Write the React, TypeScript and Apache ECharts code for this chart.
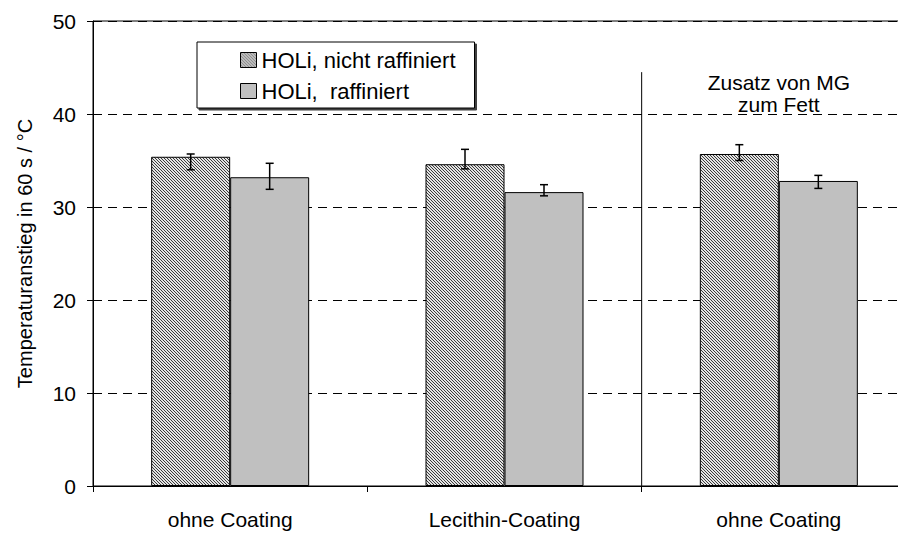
import React, { useEffect, useRef } from 'react';
import * as echarts from 'echarts';

// Categories along the x axis
const categories = ['ohne Coating', 'Lecithin-Coating', 'ohne Coating'];
const seriesNames = ['HOLi, nicht raffiniert', 'HOLi,  raffiniert'];

// Temperature rise in 60 s (°C) with error bar limits
const unrefined = [35.4, 34.6, 35.7];
const unrefinedLow = [34.0, 34.1, 35.0];
const unrefinedHigh = [35.7, 36.2, 36.7];
const refined = [33.2, 31.6, 32.8];
const refinedLow = [31.9, 31.2, 32.0];
const refinedHigh = [34.7, 32.4, 33.4];

const yMin = 0;
const yMax = 50;
const yStep = 10;

const noteLines = ['Zusatz von MG', 'zum Fett'];
const yTitle = 'Temperaturanstieg in 60 s / °C';

const FONT = '"Liberation Sans", Arial, sans-serif';
const BAR_W = 79;

// Fine diagonal hatch tile for the unrefined series
function makeHatch(): HTMLCanvasElement {
  const n = 3;
  const c = document.createElement('canvas');
  c.width = n;
  c.height = n;
  const ctx = c.getContext('2d')!;
  ctx.fillStyle = '#e4e4e4';
  ctx.fillRect(0, 0, n, n);
  ctx.fillStyle = '#3a3a3a';
  for (let y = 0; y < n; y++) {
    ctx.fillRect(y % n, y, 1, 1);
  }
  return c;
}

function errorSeries(low: number[], high: number[], offset: number) {
  return {
    type: 'custom',
    z: 10,
    silent: true,
    data: low.map((l, i) => [i, l, high[i]]),
    encode: { x: 0, y: [1, 2] },
    renderItem: (_params: any, api: any) => {
      const idx = api.value(0);
      const lo = api.coord([idx, api.value(1)]);
      const hi = api.coord([idx, api.value(2)]);
      const x = lo[0] + offset;
      const cap = 4;
      const style = { stroke: '#000', lineWidth: 1.5 };
      return {
        type: 'group',
        children: [
          { type: 'line', shape: { x1: x, y1: hi[1], x2: x, y2: lo[1] }, style },
          { type: 'line', shape: { x1: x - cap, y1: hi[1], x2: x + cap, y2: hi[1] }, style },
          { type: 'line', shape: { x1: x - cap, y1: lo[1], x2: x + cap, y2: lo[1] }, style },
        ],
      };
    },
  };
}

export default function App() {
  const ref = useRef<HTMLDivElement>(null);

  useEffect(() => {
    document.body.style.margin = '0';
    document.body.style.background = '#fff';
    if (!ref.current) return;
    const chart = echarts.init(ref.current, undefined, { renderer: 'svg' });
    const hatch = makeHatch();

    const option: any = {
      animation: false,
      backgroundColor: '#fff',
      grid: {
        left: 93,
        top: 21,
        width: 823,
        height: 465,
        outerBoundsMode: 'none',
        containLabel: false,
        show: true,
        borderColor: '#000',
        borderWidth: 1,
        backgroundColor: 'transparent',
      },
      legend: {
        data: seriesNames,
        orient: 'vertical',
        left: 197,
        top: 42,
        padding: [7, 19, 6, 43],
        itemGap: 9,
        itemWidth: 16,
        itemHeight: 15,
        icon: 'rect',
        borderColor: '#000',
        borderWidth: 1,
        backgroundColor: '#fff',
        shadowColor: 'rgba(0,0,0,0.75)',
        shadowOffsetX: 2,
        shadowOffsetY: 2,
        shadowBlur: 0,
        textStyle: { fontSize: 22, color: '#000', fontFamily: FONT },
        itemStyle: { borderColor: '#000', borderWidth: 1 },
      },
      xAxis: {
        type: 'category',
        data: categories,
        boundaryGap: true,
        axisLine: { show: true, lineStyle: { color: '#000', width: 1 } },
        axisTick: { show: true, interval: 0, length: 6, lineStyle: { color: '#000' } },
        axisLabel: { fontSize: 21, color: '#000', fontFamily: FONT, margin: 23, interval: 0 },
        splitLine: { show: false },
      },
      yAxis: {
        type: 'value',
        min: yMin,
        max: yMax,
        interval: yStep,
        name: yTitle,
        nameLocation: 'middle',
        nameGap: 58,
        nameTextStyle: { fontSize: 20, color: '#000', fontFamily: FONT },
        axisLine: { show: true, lineStyle: { color: '#000', width: 1 } },
        axisTick: { show: true, length: 6, lineStyle: { color: '#000' } },
        axisLabel: { fontSize: 21, color: '#000', fontFamily: FONT, margin: 17 },
        splitLine: { show: true, lineStyle: { color: '#000', type: [9, 6], width: 1 } },
      },
      series: [
        {
          name: seriesNames[0],
          type: 'bar',
          data: unrefined,
          barWidth: BAR_W,
          barGap: '0%',
          itemStyle: {
            color: { image: hatch, repeat: 'repeat', imageWidth: 3, imageHeight: 3 },
            borderColor: '#000',
            borderWidth: 1,
          },
        },
        {
          name: seriesNames[1],
          type: 'bar',
          data: refined,
          barWidth: BAR_W,
          barGap: '0%',
          itemStyle: { color: '#c0c0c0', borderColor: '#000', borderWidth: 1 },
        },
        errorSeries(unrefinedLow, unrefinedHigh, -BAR_W / 2),
        errorSeries(refinedLow, refinedHigh, BAR_W / 2),
      ],
    };

    chart.setOption(option);

    // Separator between the second and third group, plus its note
    const c1 = chart.convertToPixel({ xAxisIndex: 0 }, 1) as number;
    const c2 = chart.convertToPixel({ xAxisIndex: 0 }, 2) as number;
    const sepX = (c1 + c2) / 2;
    const sepTop = chart.convertToPixel({ yAxisIndex: 0 }, 44.5) as number;
    const sepBottom = chart.convertToPixel({ yAxisIndex: 0 }, yMin) as number;
    const noteY = chart.convertToPixel({ yAxisIndex: 0 }, 42.2) as number;

    chart.setOption({
      graphic: [
        {
          type: 'line',
          shape: { x1: sepX, y1: sepTop, x2: sepX, y2: sepBottom },
          style: { stroke: '#000', lineWidth: 1 },
          z: 5,
        },
        {
          type: 'text',
          x: c2,
          y: noteY,
          style: {
            text: noteLines.join('\n'),
            fontSize: 21,
            lineHeight: 22,
            fontFamily: FONT,
            fill: '#000',
            align: 'center',
            verticalAlign: 'middle',
          },
          z: 5,
        },
      ],
    });

    return () => chart.dispose();
  }, []);

  return (
    <div style={{ width: 907, height: 534, overflow: 'hidden', background: '#fff' }}>
      <div ref={ref} style={{ width: 898, height: 534, overflow: 'hidden' }} />
    </div>
  );
}
